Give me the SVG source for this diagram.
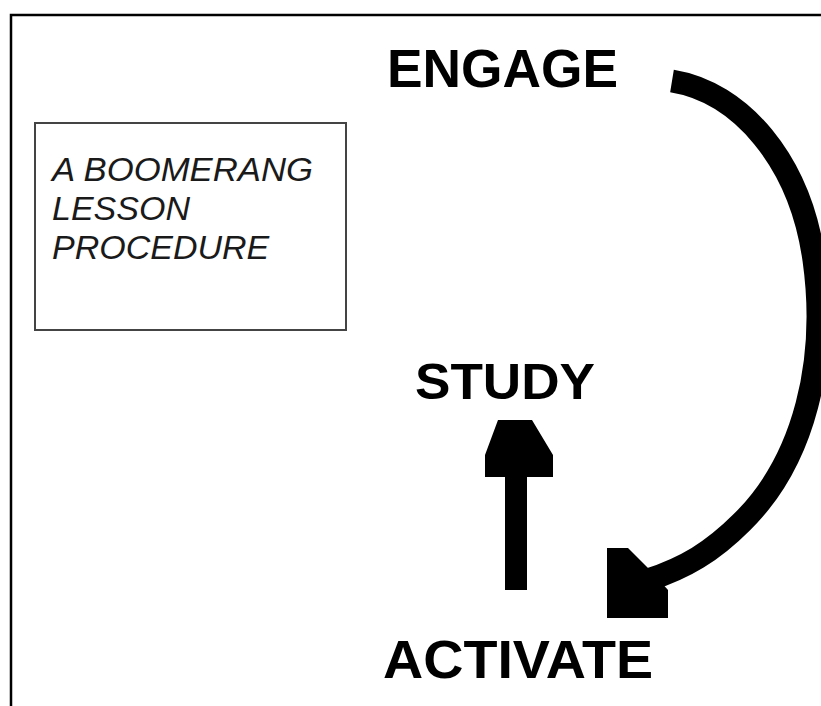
<svg xmlns="http://www.w3.org/2000/svg" width="821" height="706" viewBox="0 0 821 706">
  <style>
    .lbl { font-family: "Liberation Sans", Arial, sans-serif; font-weight: bold; fill: #000; }
    .note { font-family: "Liberation Sans", Arial, sans-serif; font-style: italic; font-size: 34px; fill: #1a1a1a; }
    .frame { fill: none; stroke: #000; stroke-width: 2.5; }
  </style>
  <rect width="821" height="706" fill="#fff"/>
  <g id="frame">
    <path class="frame" d="M11,706 V15 H821"/>
  </g>
  <g id="title-box">
    <rect x="35" y="123" width="311" height="207" fill="#fff" stroke="#444" stroke-width="2"/>
    <text class="note" x="52" y="181" textLength="261" lengthAdjust="spacingAndGlyphs">A BOOMERANG</text>
    <text class="note" x="52" y="220">LESSON</text>
    <text class="note" x="52" y="259">PROCEDURE</text>
  </g>
  <g id="engage">
    <text class="lbl" x="387" y="87" font-size="54" textLength="231" lengthAdjust="spacingAndGlyphs">ENGAGE</text>
  </g>
  <g id="study">
    <text class="lbl" x="415" y="399" font-size="50" textLength="180" lengthAdjust="spacingAndGlyphs">STUDY</text>
  </g>
  <g id="activate">
    <text class="lbl" x="383" y="678" font-size="54" textLength="270" lengthAdjust="spacingAndGlyphs">ACTIVATE</text>
  </g>
  <g id="connectors">
    <path id="engage-to-activate" d="M672,81 C740,92 800,160 814,260 C828,360 805,460 742,522 C712,552 685,568 648,580" fill="none" stroke="#000" stroke-width="23"/>
    <polygon points="607,548 628,548 652,572 668,590 668,618 607,618" fill="#000"/>
    <polygon id="activate-to-study" points="498,420 532,420 553,455 553,477 527,477 527,590 505,590 505,477 485,477 485,455" fill="#000"/>
  </g>
</svg>
